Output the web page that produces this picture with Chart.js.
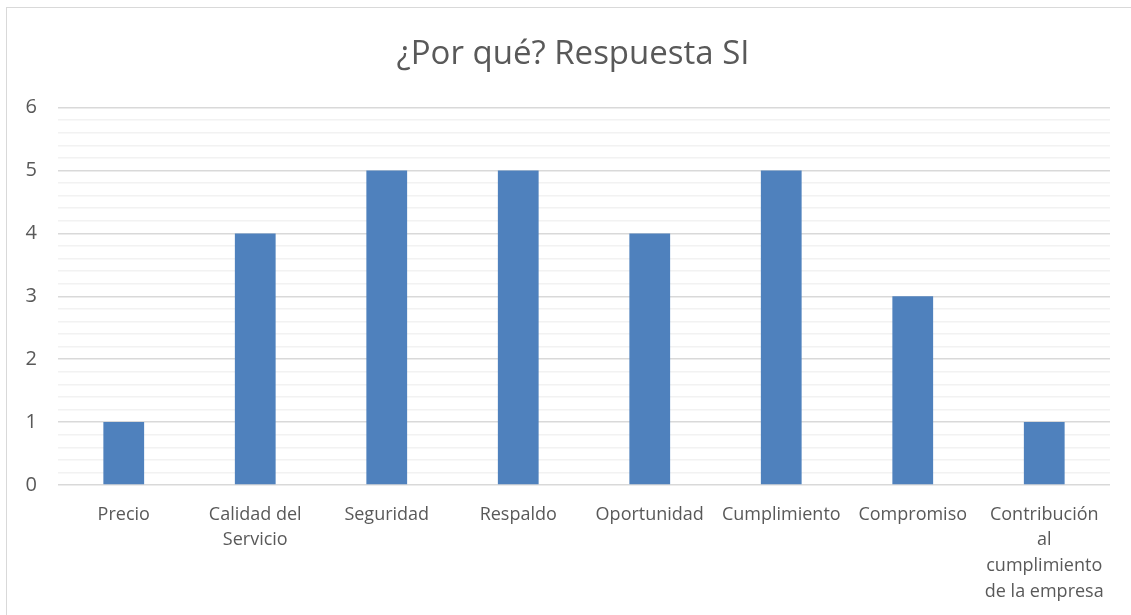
<!DOCTYPE html>
<html>
<head>
<meta charset="utf-8">
<script src="https://cdn.jsdelivr.net/npm/chart.js@4"></script>
<style>
  html, body { margin: 0; padding: 0; background: #fff; }
  #wrap { position: relative; width: 1131px; height: 615px; }
  #frame { position: absolute; left: 6px; top: 7px; width: 1130px; height: 620px; border: 1px solid #d9d9d9; box-sizing: border-box; }
  canvas { position: absolute; left: 0; top: 0; }
</style>
</head>
<body>
<div id="wrap">
  <div id="frame"></div>
  <canvas id="chart" width="1131" height="615"></canvas>
</div>
<script>
// datos del gráfico
const categorias = [
  "Precio",
  ["Calidad del", "Servicio"],
  "Seguridad",
  "Respaldo",
  "Oportunidad",
  "Cumplimiento",
  "Compromiso",
  ["Contribución", "al", "cumplimiento", "de la empresa"]
];
const valores = [1, 4, 5, 5, 4, 5, 3, 1];
const tituloTexto = "¿Por qué? Respuesta SI";

const fuente = "'Open Sans', 'Noto Sans', sans-serif";
const ctx = document.getElementById("chart").getContext("2d");

function esEntero(v) {
  return Math.abs(v - Math.round(v)) < 1e-6;
}

// desplaza el bloque del título para que quede centrado como en el original
const centrarTitulo = {
  id: "centrarTitulo",
  beforeDraw(chart) {
    if (chart.titleBlock) chart.titleBlock.left = 36;
  }
};

new Chart(ctx, {
  type: "bar",
  data: {
    labels: categorias,
    datasets: [{
      data: valores,
      backgroundColor: "#4f81bd",
      borderWidth: 0,
      categoryPercentage: 1,
      barPercentage: 0.31
    }]
  },
  options: {
    responsive: false,
    animation: false,
    layout: { padding: { left: 0, right: 21, top: 0, bottom: 0 } },
    plugins: {
      legend: { display: false },
      tooltip: { enabled: false },
      title: {
        display: true,
        text: tituloTexto,
        color: "#595959",
        font: { family: fuente, size: 33, weight: "normal" },
        padding: { top: 35, bottom: 33 }
      }
    },
    scales: {
      x: {
        grid: { display: false },
        border: { display: false },
        ticks: {
          color: "#595959",
          font: { family: fuente, size: 18, lineHeight: 1.42 },
          maxRotation: 0,
          autoSkip: false,
          padding: 9
        },
        afterFit: (s) => { s.height = 130; }
      },
      y: {
        min: 0,
        max: 6,
        border: { display: false },
        grid: {
          drawTicks: false,
          color: (c) => esEntero(c.tick.value) ? "#d9d9d9" : "#f2f2f2",
          lineWidth: 1.5
        },
        ticks: {
          stepSize: 0.2,
          autoSkip: false,
          color: "#595959",
          font: { family: fuente, size: 20 },
          padding: 21,
          callback: (v) => esEntero(v) ? Math.round(v) : ""
        },
        afterFit: (s) => { s.width = 58; }
      }
    }
  },
  plugins: [centrarTitulo]
});
</script>
</body>
</html>
